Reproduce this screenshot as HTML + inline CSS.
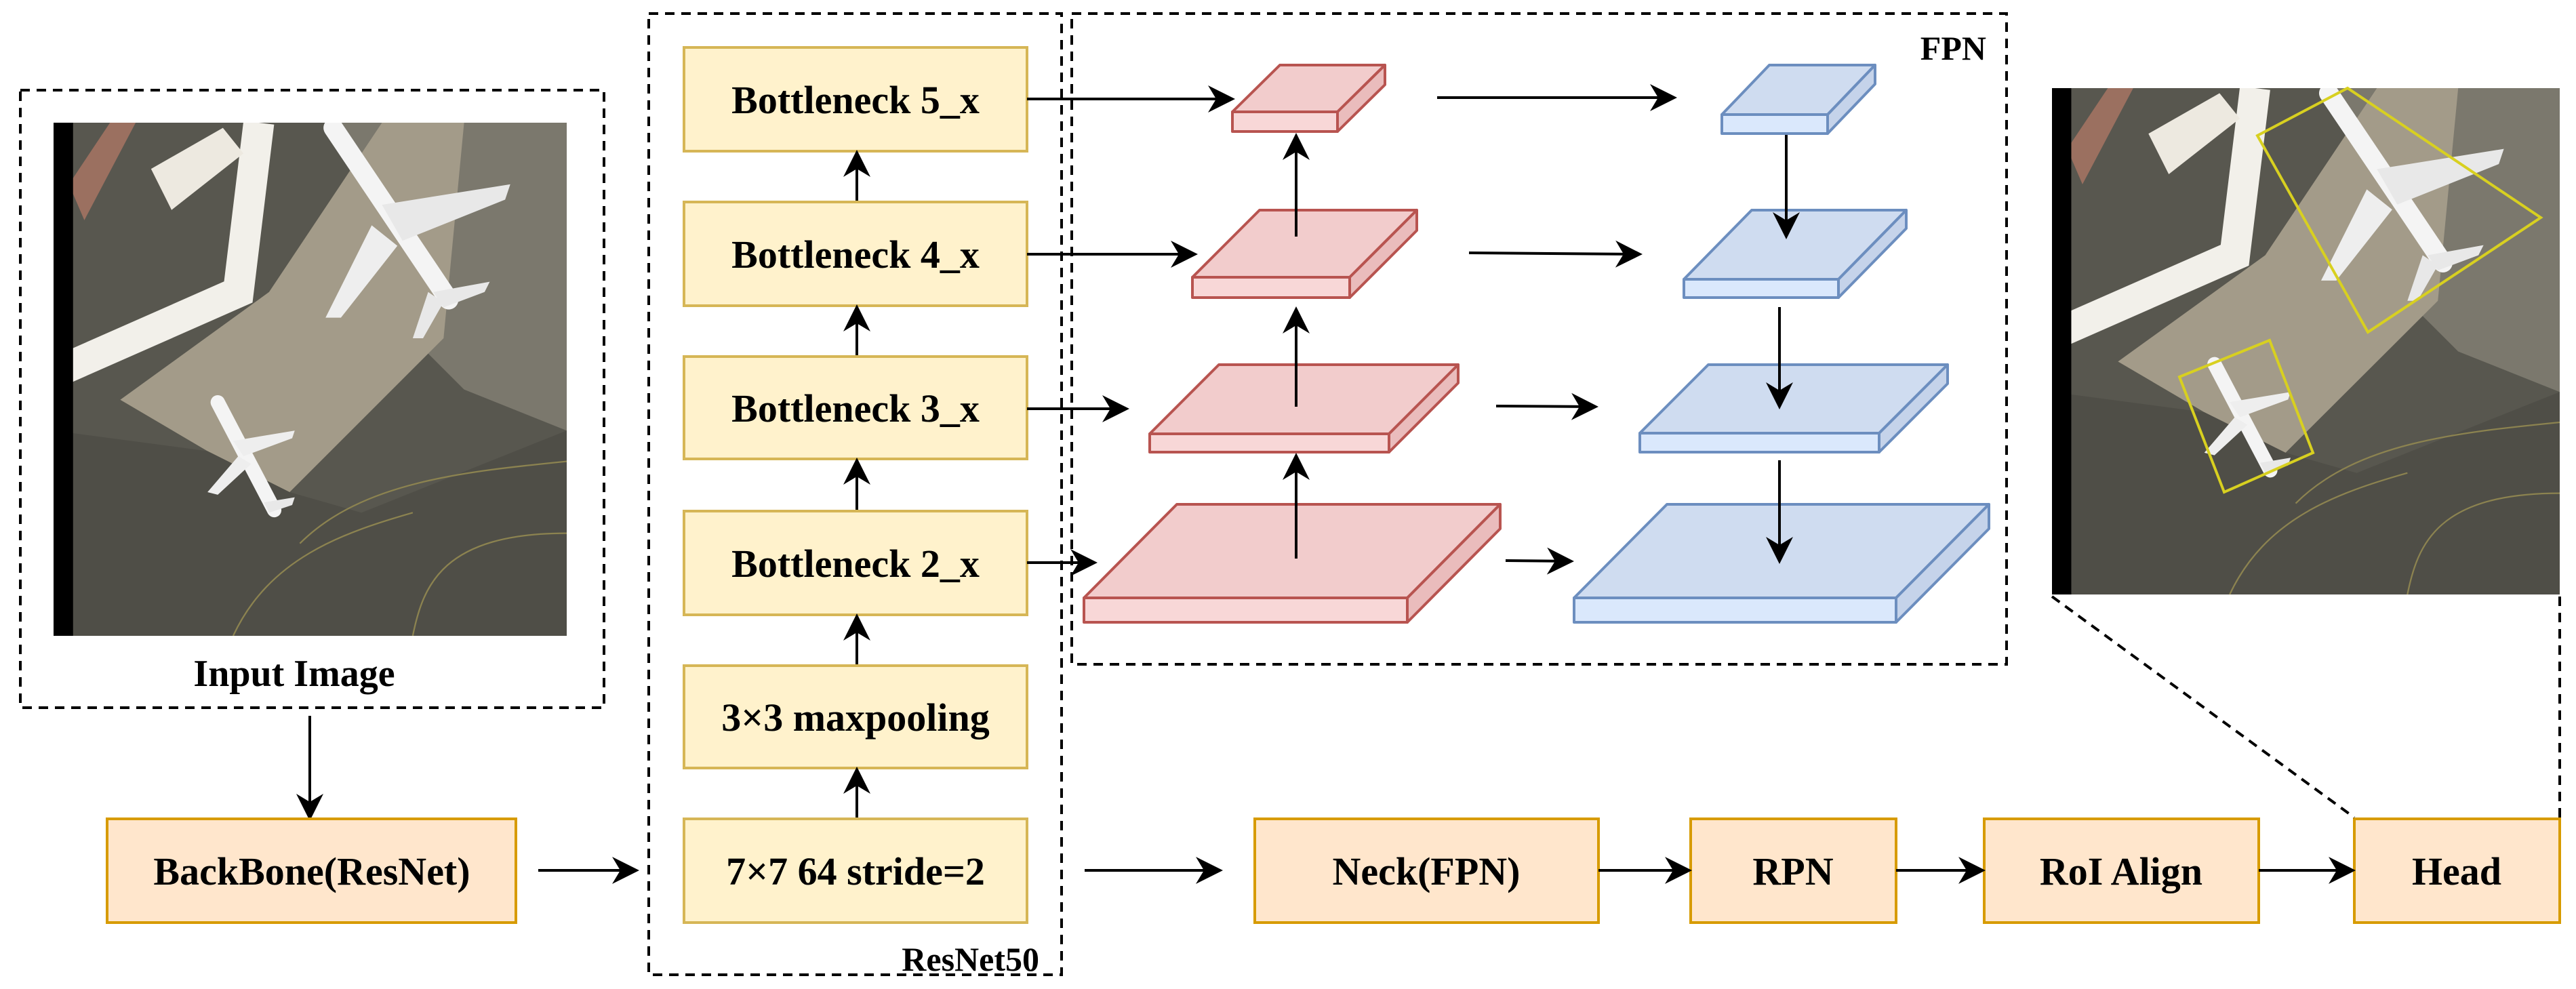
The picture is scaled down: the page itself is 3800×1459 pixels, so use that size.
<!DOCTYPE html>
<html><head><meta charset="utf-8"><style>
html,body{margin:0;padding:0;background:#fff;}
svg{display:block;}
text{font-family:"Liberation Serif",serif;font-weight:bold;fill:#000;}
</style></head><body>
<svg width="3800" height="1459" viewBox="0 0 3800 1459" xmlns="http://www.w3.org/2000/svg">
<defs>
<marker id="b" viewBox="0 0 10 10" refX="9" refY="5" markerWidth="44" markerHeight="40" markerUnits="userSpaceOnUse" orient="auto"><path d="M0,0 L10,5 L0,10 L3,5 z" fill="#000"/></marker>
<symbol id="img" viewBox="0 0 1000 1000" preserveAspectRatio="none">
<rect width="1000" height="1000" fill="#58574f"/>
<polygon points="560,0 1000,0 1000,600 800,520 700,420" fill="#7b786d"/>
<polygon points="130,540 420,330 560,120 640,0 800,0 760,420 460,720 300,640" fill="#a39b89"/>
<polygon points="0,600 300,640 460,720 600,760 1000,600 1000,1000 0,1000" fill="#4f4e47"/>
<polyline points="20,480 360,330 400,0" fill="none" stroke="#f2f0ea" stroke-width="60"/>
<polygon points="190,90 330,10 370,60 230,170" fill="#ede9e0"/>
<polygon points="30,120 110,0 160,0 60,190" fill="#9b7060"/>
<line x1="545" y1="10" x2="770" y2="345" stroke="#f4f4f4" stroke-width="38" stroke-linecap="round"/>
<polygon points="640,160 890,120 880,150 680,230" fill="#e8e8e8"/>
<polygon points="620,200 530,380 560,380 670,240" fill="#eeeeee"/>
<polygon points="740,330 850,310 840,330 760,360" fill="#e8e8e8"/>
<polygon points="730,330 700,420 720,420 760,350" fill="#e8e8e8"/>
<line x1="320" y1="545" x2="430" y2="755" stroke="#f4f4f4" stroke-width="28" stroke-linecap="round"/>
<polygon points="350,620 470,600 465,615 370,650" fill="#eeeeee"/>
<polygon points="360,650 300,720 320,725 385,665" fill="#eeeeee"/>
<polygon points="410,740 470,730 465,745 420,760" fill="#e8e8e8"/>
<path d="M480,820 C600,700 800,680 1000,660 M350,1000 C420,850 560,800 700,760 M700,1000 C720,900 760,800 1000,800" fill="none" stroke="#8c8350" stroke-width="3"/>
<rect width="38" height="1000" fill="#000"/>
</symbol>
</defs>

<rect x="30" y="133" width="861" height="911" fill="none" stroke="#000" stroke-width="4" stroke-dasharray="14,10"/>
<use href="#img" x="79" y="181" width="757" height="757"/>
<text x="434" y="1012" font-size="56" text-anchor="middle">Input Image</text>
<line x1="457" y1="1056" x2="457" y2="1207" stroke="#000" stroke-width="4" marker-end="url(#b)"/>

<rect x="957" y="20" width="609" height="1418" fill="none" stroke="#000" stroke-width="4" stroke-dasharray="14,10"/>
<text x="1533" y="1432" font-size="50" text-anchor="end">ResNet50</text>
<rect x="1581" y="20" width="1379" height="960" fill="none" stroke="#000" stroke-width="4" stroke-dasharray="14,10"/>
<text x="2930" y="88" font-size="50" text-anchor="end">FPN</text>

<g fill="#fff2cc" stroke="#d6b656" stroke-width="4">
<rect x="1009" y="70" width="506" height="153"/>
<rect x="1009" y="298" width="506" height="153"/>
<rect x="1009" y="526" width="506" height="151"/>
<rect x="1009" y="754" width="506" height="153"/>
<rect x="1009" y="982" width="506" height="151"/>
<rect x="1009" y="1208" width="506" height="153"/>
</g>
<g font-size="58" text-anchor="middle">
<text x="1262" y="167">Bottleneck 5_x</text>
<text x="1262" y="395">Bottleneck 4_x</text>
<text x="1262" y="622">Bottleneck 3_x</text>
<text x="1262" y="851">Bottleneck 2_x</text>
<text x="1262" y="1078">3×3 maxpooling</text>
<text x="1262" y="1305">7×7 64 stride=2</text>
</g>
<g stroke="#000" stroke-width="4" marker-end="url(#b)">
<line x1="1264" y1="296" x2="1264" y2="225"/>
<line x1="1264" y1="524" x2="1264" y2="453"/>
<line x1="1264" y1="752" x2="1264" y2="679"/>
<line x1="1264" y1="980" x2="1264" y2="909"/>
<line x1="1264" y1="1206" x2="1264" y2="1135"/>
</g>

<g fill="#ffe6cc" stroke="#d79b00" stroke-width="4">
<rect x="158" y="1208" width="603" height="153"/>
<rect x="1851" y="1208" width="507" height="153"/>
<rect x="2494" y="1208" width="303" height="153"/>
<rect x="2927" y="1208" width="405" height="153"/>
<rect x="3473" y="1208" width="303" height="153"/>
</g>
<g font-size="58" text-anchor="middle">
<text x="460" y="1305">BackBone(ResNet)</text>
<text x="2104" y="1305">Neck(FPN)</text>
<text x="2645" y="1305">RPN</text>
<text x="3129" y="1305">RoI Align</text>
<text x="3624" y="1305">Head</text>
</g>
<g stroke="#000" stroke-width="4" marker-end="url(#b)">
<line x1="794" y1="1284" x2="939" y2="1284"/>
<line x1="1600" y1="1284" x2="1800" y2="1284"/>
<line x1="2358" y1="1284" x2="2492" y2="1284"/>
<line x1="2797" y1="1284" x2="2925" y2="1284"/>
<line x1="3332" y1="1284" x2="3471" y2="1284"/>
</g>

<g stroke="#b85450" stroke-width="4" stroke-linejoin="round">
<polygon points="1818,165 1888,96 2043,96 1973,165" fill="#f2cccc"/>
<rect x="1818" y="165" width="155" height="29" fill="#f8d7d7"/>
<polygon points="1973,165 2043,96 2043,125 1973,194" fill="#eabcbc"/>
<polygon points="1759,409 1858,310 2090,310 1991,409" fill="#f2cccc"/>
<rect x="1759" y="409" width="232" height="30" fill="#f8d7d7"/>
<polygon points="1991,409 2090,310 2090,340 1991,439" fill="#eabcbc"/>
<polygon points="1696,640 1798,538 2151,538 2049,640" fill="#f2cccc"/>
<rect x="1696" y="640" width="353" height="27" fill="#f8d7d7"/>
<polygon points="2049,640 2151,538 2151,565 2049,667" fill="#eabcbc"/>
<polygon points="1599,882 1736,744 2213,744 2076,882" fill="#f2cccc"/>
<rect x="1599" y="882" width="477" height="36" fill="#f8d7d7"/>
<polygon points="2076,882 2213,744 2213,780 2076,918" fill="#eabcbc"/>
</g>
<g stroke="#6c8ebf" stroke-width="4" stroke-linejoin="round">
<polygon points="2540,169 2610,96 2766,96 2696,169" fill="#cfdcf0"/>
<rect x="2540" y="169" width="156" height="28" fill="#dae8fc"/>
<polygon points="2696,169 2766,96 2766,124 2696,197" fill="#c5d3ea"/>
<polygon points="2484,412 2584,310 2812,310 2712,412" fill="#cfdcf0"/>
<rect x="2484" y="412" width="228" height="27" fill="#dae8fc"/>
<polygon points="2712,412 2812,310 2812,337 2712,439" fill="#c5d3ea"/>
<polygon points="2419,639 2520,538 2873,538 2772,639" fill="#cfdcf0"/>
<rect x="2419" y="639" width="353" height="28" fill="#dae8fc"/>
<polygon points="2772,639 2873,538 2873,566 2772,667" fill="#c5d3ea"/>
<polygon points="2322,882 2459,744 2934,744 2797,882" fill="#cfdcf0"/>
<rect x="2322" y="882" width="475" height="36" fill="#dae8fc"/>
<polygon points="2797,882 2934,744 2934,780 2797,918" fill="#c5d3ea"/>
</g>

<g stroke="#000" stroke-width="4" marker-end="url(#b)">
<line x1="1515" y1="146" x2="1818" y2="146"/>
<line x1="1515" y1="375" x2="1763" y2="375"/>
<line x1="1515" y1="603" x2="1662" y2="603"/>
<line x1="1515" y1="830" x2="1615" y2="830"/>
<line x1="1912" y1="824" x2="1912" y2="672"/>
<line x1="1912" y1="600" x2="1912" y2="456"/>
<line x1="1912" y1="349" x2="1912" y2="200"/>
<line x1="2120" y1="144" x2="2470" y2="144"/>
<line x1="2167" y1="373" x2="2419" y2="375"/>
<line x1="2207" y1="599" x2="2354" y2="600"/>
<line x1="2221" y1="827" x2="2318" y2="828"/>
<line x1="2635" y1="199" x2="2635" y2="349"/>
<line x1="2625" y1="453" x2="2625" y2="600"/>
<line x1="2625" y1="679" x2="2625" y2="828"/>
</g>

<use href="#img" x="3027" y="130" width="749" height="747"/>
<polygon points="3330,200 3463,130 3748,321 3493,490" fill="none" stroke="#d8d020" stroke-width="4"/>
<polygon points="3215,556 3348,502 3412,668 3281,726" fill="none" stroke="#d8d020" stroke-width="4"/>
<line x1="3027" y1="880" x2="3473" y2="1206" stroke="#000" stroke-width="4" stroke-dasharray="14,10"/>
<line x1="3776" y1="880" x2="3776" y2="1206" stroke="#000" stroke-width="4" stroke-dasharray="14,10"/>
</svg>
</body></html>
